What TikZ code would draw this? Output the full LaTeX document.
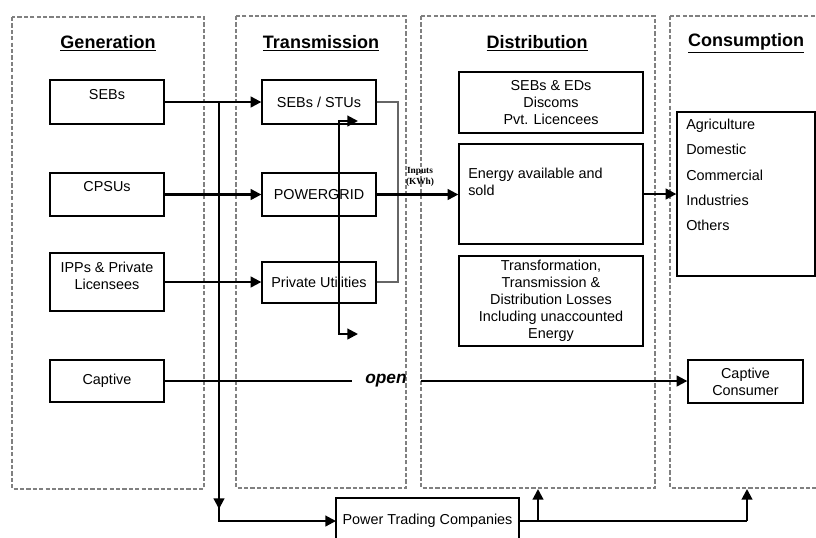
\documentclass[tikz,border=0pt]{standalone}
\usepackage{fontspec}
\setmainfont{Liberation Sans}
\newfontfamily\serifb{Liberation Serif}
\usetikzlibrary{arrows.meta}
\begin{document}
\begin{tikzpicture}[x=0.75pt,y=-0.75pt,
  region/.style={draw=black!50,line width=1.7pt,dash pattern=on 3.2pt off 1.6pt},
  box/.style={draw=black,line width=1pt,inner sep=0pt,fill=white},
  txt/.style={font=\fontsize{10.8}{12.8}\selectfont,inner sep=0pt,align=center},
  title/.style={font=\fontsize{13.5}{16}\selectfont\bfseries,inner sep=0pt},
  conn/.style={line width=1.6pt,draw=black},
  tip/.tip={Triangle[length=8pt,width=8pt]},
  arr/.style={conn,-tip},
  feed/.style={line width=0.8pt,draw=black!60}]
\clip (0,0) rectangle (816,537);
\useasboundingbox (0,0) rectangle (816,537);
\fill[white] (0,0) rectangle (816,537);
% regions
\draw[region] (12,17) rectangle (204,489);
\draw[region] (236,16) rectangle (406,488);
\draw[region] (421,16) rectangle (655,488);
\draw[region] (670,16) rectangle (840,488);
\node[title] (tgen) at (108,43) {\underline{Generation}};
\node[title] (ttra) at (321,43) {\underline{Transmission}};
\node[title] (tdis) at (537,43) {\underline{Distribution}};
\node[title] (tcon) at (746,43) {\underline{Consumption}};
% generation
\node[box,minimum width=114*0.75pt,minimum height=44*0.75pt] (seb) at (107,102) {};
\node[txt] (sebt) at (107,95) {SEBs};
\node[box,minimum width=114*0.75pt,minimum height=43*0.75pt] (cpsu) at (107,194.5) {};
\node[txt] (cpsut) at (107,187) {CPSUs};
\node[box,minimum width=114*0.75pt,minimum height=58*0.75pt] (ipp) at (107,282) {};
\node[txt] (ippt) at (107,275.5) {IPPs \& Private\\Licensees};
\node[box,txt,minimum width=114*0.75pt,minimum height=42*0.75pt] (cap) at (107,381) {Captive};
% transmission
\node[box,txt,minimum width=114*0.75pt,minimum height=44*0.75pt] (stu) at (319,102) {SEBs / STUs};
\node[box,txt,minimum width=114*0.75pt,minimum height=43*0.75pt] (pg) at (319,194.5) {POWERGRID};
\node[box,txt,minimum width=114*0.75pt,minimum height=41*0.75pt] (pu) at (319,282.5) {Private Utilities};
% distribution
\node[box,txt,minimum width=184*0.75pt,minimum height=61*0.75pt] (sebed) at (551,102.5) {SEBs \& EDs\\Discoms\\Pvt. Licencees};
\node[box,minimum width=184*0.75pt,minimum height=100*0.75pt] (energy) at (551,194) {};
\node[txt,anchor=north west,align=left] (energyt) at (468,168) {Energy available and\\sold};
\node[box,txt,minimum width=184*0.75pt,minimum height=90*0.75pt] (loss) at (551,301) {Transformation,\\Transmission \&\\Distribution Losses\\Including unaccounted\\Energy};
% consumption
\node[box,minimum width=138*0.75pt,minimum height=164*0.75pt] (list) at (746,194) {};
\node[txt,anchor=north west,align=left,font=\fontsize{10.8}{18.9}\selectfont] (listt) at (686,119) {Agriculture\\Domestic\\Commercial\\Industries\\Others};
\node[box,txt,minimum width=115*0.75pt,minimum height=43*0.75pt] (cc) at (745.5,381.5) {Captive\\Consumer};
% power trading
\node[box,minimum width=183*0.75pt,minimum height=60*0.75pt] (ptc) at (427.5,528) {};
\node[txt] (ptct) at (427.5,521) {Power Trading Companies};
% labels
\node[font=\serifb\bfseries\fontsize{7}{8.5}\selectfont,align=center,inner sep=0pt] (inp) at (420,177) {Inputs\\(KWh)};
\node[font=\fontsize{13}{15}\selectfont\bfseries\itshape,inner sep=0pt] (open) at (386,381) {open};
% connectors
\coordinate (j1) at (219,102);
\coordinate (j2) at (219,509);
\coordinate (j3) at (219,505);
\coordinate (ptw) at (336,521);
\draw[arr] (seb.east) -- (stu.west);
\draw[arr] (cpsu.east) -- (pg.west);
\draw[arr] (ipp.east) -- (ipp.east -| pu.west);
\draw[arr] (j1) -- (j2);
\draw[arr] (j3) |- (ptw);
\coordinate (f1) at (398,102);
\coordinate (f2) at (398,282);
\draw[feed] (stu.east) -- (f1) -- (f2) -- (f2 -| pu.east);
\draw[arr] (pg.east) -- (pg.east -| energy.west);
\coordinate (u1) at (358,121);
\coordinate (u2) at (339,121);
\coordinate (u3) at (339,334);
\coordinate (u4) at (358,334);
\draw[conn,tip-tip] (u1) -- (u2) -- (u3) -- (u4);
\draw[arr] (energy.east) -- (list.west);
\coordinate (o1) at (352,381);
\coordinate (o2) at (421,381);
\draw[conn] (cap.east) -- (o1);
\draw[arr] (o2) -- (o2 -| cc.west);
\coordinate (p0) at (519,521);
\coordinate (p1) at (538,521);
\coordinate (p2) at (538,489);
\coordinate (p3) at (747,521);
\coordinate (p4) at (747,489);
\draw[conn] (p0) -- (p3);
\draw[arr] (p1) -- (p2);
\draw[arr] (p3) -- (p4);
\end{tikzpicture}
\end{document}
